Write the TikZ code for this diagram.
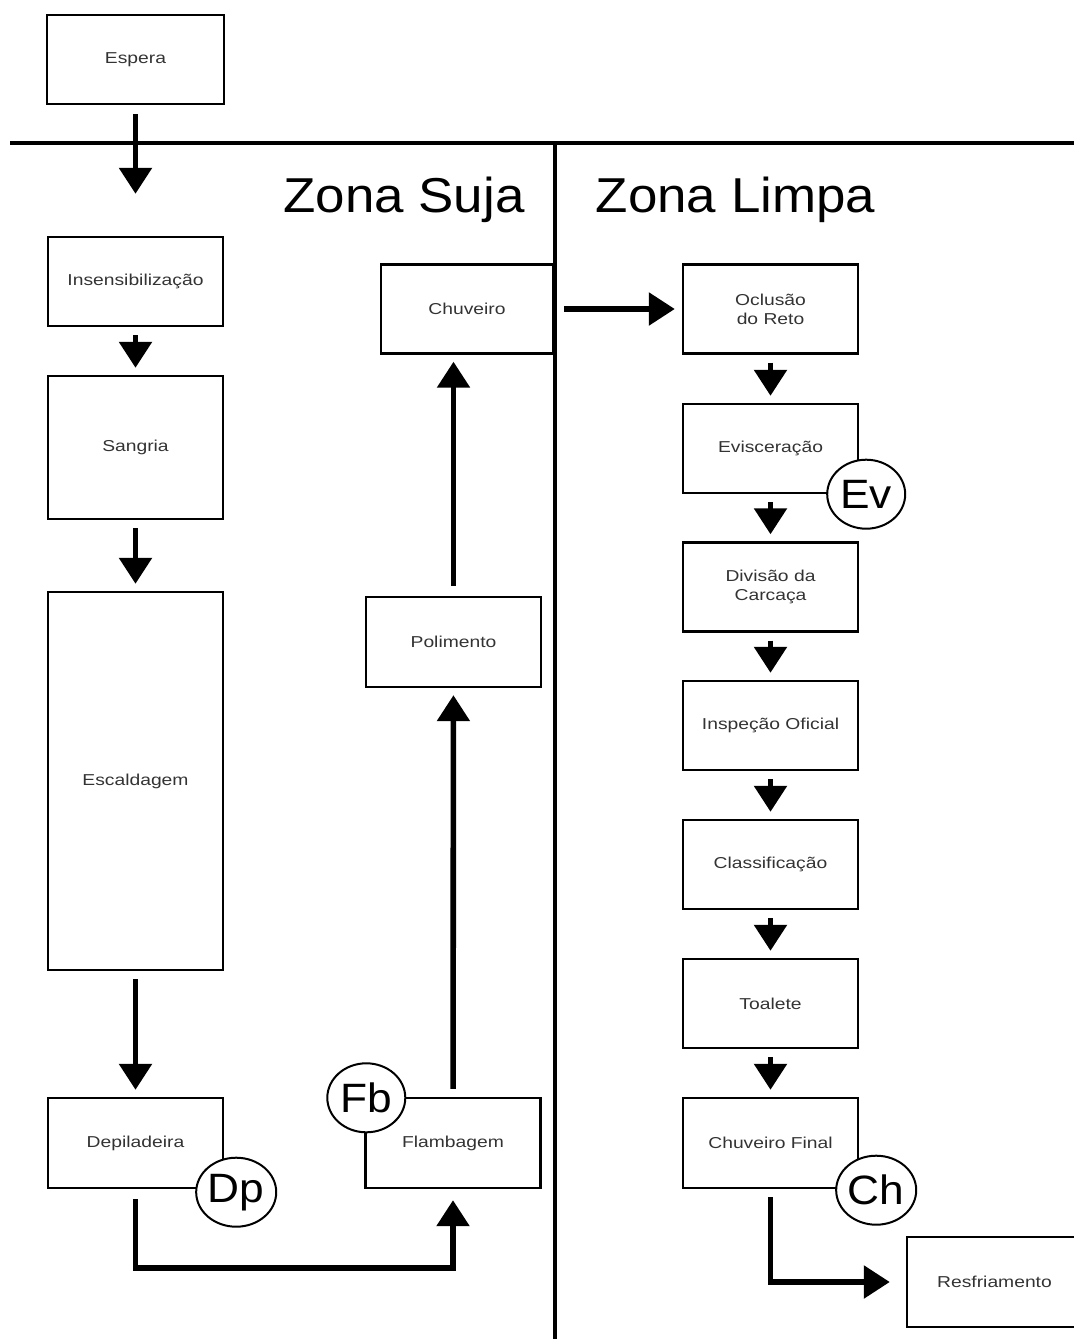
\documentclass[tikz,border=0pt]{standalone}
\usepackage{fontspec}
\setmainfont{Liberation Sans}
\newfontfamily\boxfont[FakeStretch=1.22]{Liberation Sans}
\newfontfamily\zonefont[FakeStretch=1.08]{Liberation Sans}
\usetikzlibrary{arrows.meta}
\usetikzlibrary{shapes.geometric}

\tikzset{
    box/.style={draw, line width=1.2pt, minimum width=87.5pt, minimum height=44.5pt,
        inner sep=1pt, align=center, text=black!80,
        font=\boxfont\fontsize{7.9}{9.5}\selectfont},
    tag/.style={draw, ellipse, fill=white, line width=1pt, minimum width=39pt,
        minimum height=34.5pt, inner sep=0pt, font=\zonefont\fontsize{20.5}{24}\selectfont},
    flow/.style={line width=2.8pt, -{Triangle[length=13pt,width=16pt]},
        shorten <=4pt, shorten >=3.5pt},
    zone/.style={line width=2pt}
}

\begin{document}
\begin{tikzpicture}[x=0.5pt, y=-0.5pt]
            \useasboundingbox (0,0) rectangle (1074,1339);
            % zonas
            \draw [zone] (10,143) -- (1074,143);
            \draw [zone] (555,143) -- (555,1339);
            \node [anchor=base, font=\zonefont\fontsize{24.5}{28}\selectfont] (suja) at (404,212) {Zona Suja};
            \node [anchor=base, font=\zonefont\fontsize{24.5}{28}\selectfont] (limpa) at (735.5,212) {Zona Limpa};
            % zona suja
            \node [box, minimum width=88.5pt] (espera) at (135.5,59.5) {Espera};
            \node [box] (insens) at (135.5,281.5) {Insensibilização};
            \node [box, minimum height=71.5pt] (sangria) at (135.5,447.5) {Sangria};
            \node [box, minimum height=189pt] (escald) at (135.5,781) {Escaldagem};
            \node [box, minimum height=45pt] (depil) at (135.5,1143) {Depiladeira};
            \node [box, minimum height=45pt] (flamb) at (453,1143) {Flambagem};
            \node [box, minimum height=45pt] (polim) at (453.5,642) {Polimento};
            \node [box, minimum width=86pt] (chuv) at (467,309) {Chuveiro};
            % zona limpa
            \node [box] (oclus) at (770.5,309) {Oclusão\\do Reto};
            \node [box] (evisc) at (770.5,448.5) {Evisceração};
            \node [box] (divisao) at (770.5,587) {Divisão da\\Carcaça};
            \node [box] (inspec) at (770.5,725.5) {Inspeção Oficial};
            \node [box] (classif) at (770.5,864.5) {Classificação};
            \node [box] (toalete) at (770.5,1003.5) {Toalete};
            \node [box, minimum height=45pt] (chfinal) at (770.5,1143) {Chuveiro Final};
            \node [box, minimum height=45pt] (resfr) at (994.5,1282) {Resfriamento};
            % fluxo
            \draw [flow, shorten <=4.5pt, shorten >=21pt] (espera) -- (insens);
            \draw [flow] (insens) -- (sangria);
            \draw [flow] (sangria) -- (escald);
            \draw [flow] (escald) -- (depil);
            \draw [flow, shorten <=5pt, shorten >=5.5pt] (depil.south) -- ++(0,79) -| (flamb.south);
            \draw [flow] (flamb) -- (polim);
            \draw [flow, shorten <=5pt] (polim.north) -- (polim.north |- chuv.south);
            \draw [flow, shorten <=5pt] (chuv) -- (oclus);
            \draw [flow] (oclus) -- (evisc);
            \draw [flow] (evisc) -- (divisao);
            \draw [flow] (divisao) -- (inspec);
            \draw [flow] (inspec) -- (classif);
            \draw [flow] (classif) -- (toalete);
            \draw [flow] (toalete) -- (chfinal);
            \draw [flow, shorten >=8pt] (chfinal.south) |- (resfr.west);
            % pontos
            \node [tag, xshift=6pt, yshift=-1.5pt] (dp) at (depil.south east) {Dp};
            \node [tag, xshift=1pt, yshift=-0.5pt] (fb) at (flamb.north west) {Fb};
            \node [tag, xshift=3.5pt] (ev) at (evisc.south east) {Ev};
            \node [tag, xshift=8.5pt, yshift=-0.5pt] (ch) at (chfinal.south east) {Ch};
        \end{tikzpicture}
\end{document}
